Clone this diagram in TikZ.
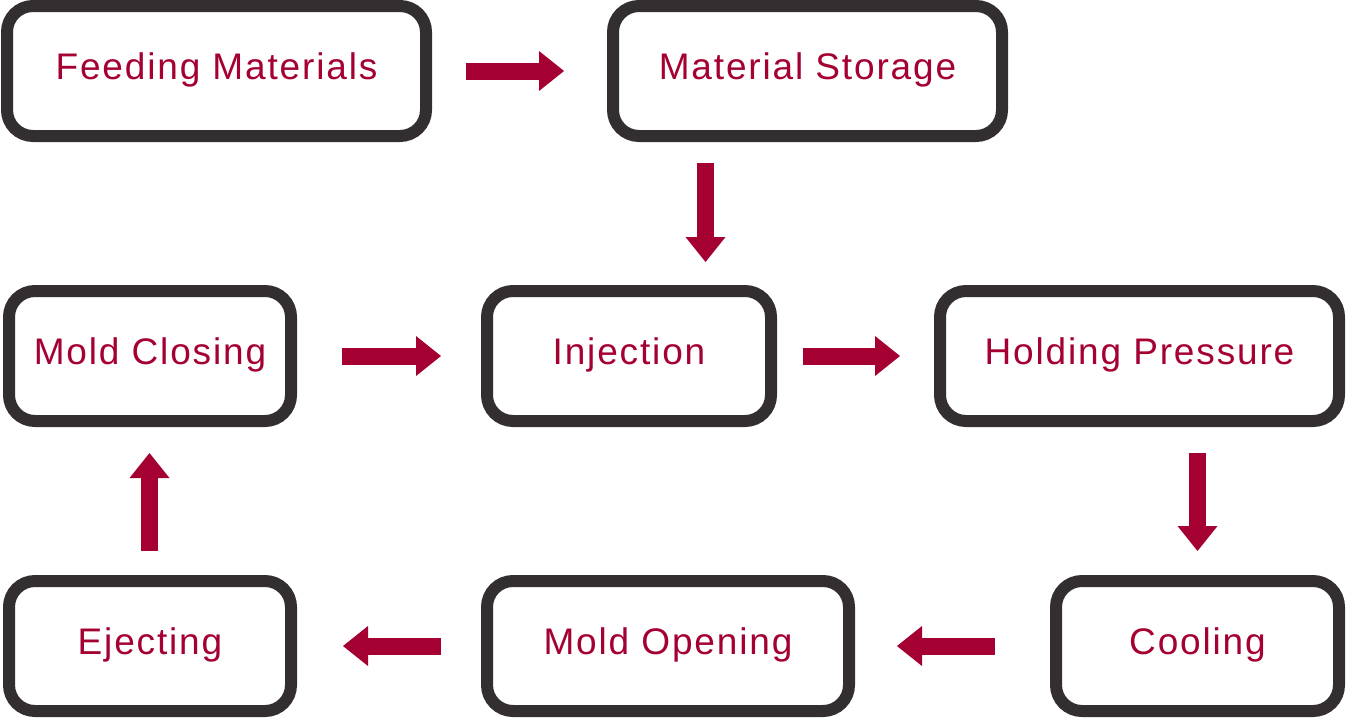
\documentclass[tikz,border=0pt]{standalone}
\usepackage{fontspec}
\setmainfont[LetterSpace=5]{Liberation Sans}
\usetikzlibrary{arrows.meta,calc}
\definecolor{bordercol}{RGB}{51,46,47}
\definecolor{arrowcol}{RGB}{165,0,50}
\begin{document}
\begin{tikzpicture}[x=1pt,y=-1pt,
  stepbox/.style={draw=bordercol, line width=12pt, rounded corners=26pt, fill=white,
    minimum height=130pt, inner sep=0pt, text=arrowcol,
    font=\fontsize{37}{41}\selectfont, text height=26.5pt, text depth=9pt},
  blockarrow/.style={draw=arrowcol, line width=17pt,
    -{Triangle[length=25pt, width=40pt, line width=0pt]}}]
\useasboundingbox (0,0) rectangle (1346,718);
% boxes
\node[stepbox, minimum width=419pt] (a) at (216.5,71) {Feeding Materials};
\node[stepbox, minimum width=389pt] (b) at (807.5,71) {Material Storage};
\node[stepbox, minimum width=282pt] (c) at (150,356) {Mold Closing};
\node[stepbox, minimum width=284pt] (d) at (629,356) {Injection};
\node[stepbox, minimum width=399pt] (e) at (1139.5,356) {Holding Pressure};
\node[stepbox, minimum width=282pt] (f) at (150,646) {Ejecting};
\node[stepbox, minimum width=362pt] (g) at (668,646) {Mold Opening};
\node[stepbox, minimum width=283pt] (h) at (1197.5,646) {Cooling};
% helper coordinates for vertical arrows
\coordinate (x1) at (705.5,0);
\coordinate (x2) at (1197.5,0);
\coordinate (x3) at (149.5,0);
% arrows
\draw[blockarrow, shorten <=34pt, shorten >=43pt] (a.east) -- (b.west);
\draw[blockarrow, shorten <=21pt, shorten >=23pt] (b.south -| x1) -- (d.north -| x1);
\draw[blockarrow, shorten <=45pt, shorten >=40pt] (c.east) -- (d.west);
\draw[blockarrow, shorten <=26pt, shorten >=34pt] (d.east) -- (e.west);
\draw[blockarrow, shorten <=26pt, shorten >=24pt] (e.south -| x2) -- (h.north -| x2);
\draw[blockarrow, shorten <=55pt, shorten >=42pt] (h.west) -- (g.east);
\draw[blockarrow, shorten <=40pt, shorten >=46pt] (g.west) -- (f.east);
\draw[blockarrow, shorten <=24pt, shorten >=26pt] (f.north -| x3) -- (c.south -| x3);
\end{tikzpicture}
\end{document}
